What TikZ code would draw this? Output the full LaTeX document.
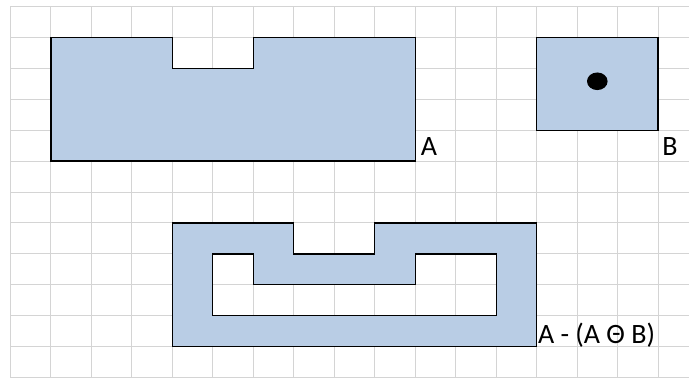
\documentclass[tikz,border=0pt]{standalone}
\usepackage{fontspec}
\setmainfont{Carlito}
\definecolor{shapefill}{HTML}{B9CDE5}
\definecolor{gridgray}{HTML}{D4D4D4}
\tikzset{
  blueshape/.style={fill=shapefill, draw=black, line width=1.2pt, line join=miter},
  lbl/.style={anchor=base west, inner sep=0pt, font=\fontsize{28}{31}\selectfont},
}
\begin{document}
\begin{tikzpicture}[x=40.47pt, y=-30.94pt]
\useasboundingbox (-0.2595,-0.2069) rectangle (16.766,12.010);
% grid
\foreach \i in {0,...,16} \draw[gridgray, line width=1pt] (\i,0) -- (\i,12.010);
\foreach \j in {0,...,12} \draw[gridgray, line width=1pt] (0,\j) -- (16.766,\j);
% A
\path[blueshape] (1,1) -- (4,1) -- (4,2) -- (6,2) -- (6,1) -- (10,1) -- (10,5) -- (1,5) -- cycle;
% B
\path[blueshape] (13,1) rectangle (16,4);
\fill[black] (14.5,2.42) ellipse[x radius=10.3pt, y radius=8.8pt];
% A - (A Theta B)
\path[blueshape, even odd rule]
  (4,7) -- (7,7) -- (7,8) -- (9,8) -- (9,7) -- (13,7) -- (13,11) -- (4,11) -- cycle
  (5,8) -- (6,8) -- (6,9) -- (10,9) -- (10,8) -- (12,8) -- (12,10) -- (5,10) -- cycle;
% labels
\node[lbl] (la) at (10.136,4.826) {A};
\node[lbl] (lb) at (16.1,4.826) {B};
\node[lbl] (lc) at (13.03,10.88) {A - (A Θ B)};
\end{tikzpicture}
\end{document}
